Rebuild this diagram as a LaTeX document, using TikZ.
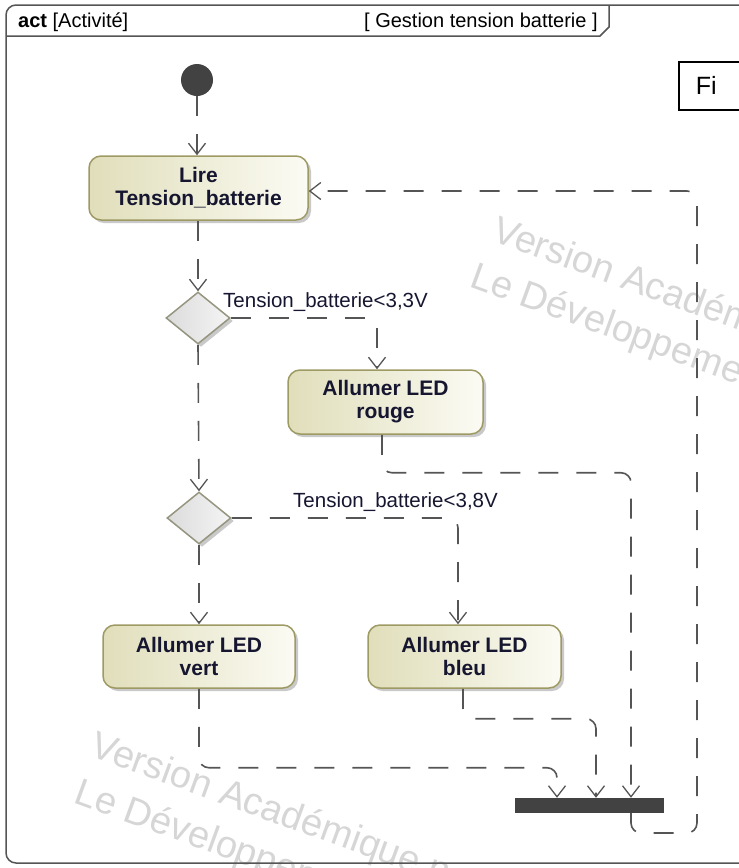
\documentclass[tikz,border=0pt]{standalone}
\usepackage{fontspec}
\setmainfont{Liberation Sans}
\usetikzlibrary{arrows.meta,shapes.geometric,shadows,calc}
\definecolor{boxL}{RGB}{224,222,186}
\definecolor{boxR}{RGB}{251,251,244}
\definecolor{boxB}{RGB}{158,154,100}
\definecolor{txt}{RGB}{22,22,48}
\definecolor{lne}{RGB}{85,85,85}
\definecolor{wmc}{RGB}{214,214,214}
\definecolor{dmB}{RGB}{150,150,128}
\definecolor{dark}{RGB}{66,66,66}
\tikzset{
  actbox/.style={rectangle, rounded corners=12pt, draw=boxB, line width=1.5pt,
    left color=boxL, right color=boxR,
    drop shadow={shadow xshift=3pt, shadow yshift=-3pt, fill=black!30, opacity=0.7},
    font=\bfseries\fontsize{21}{23}\selectfont, text=txt, align=center, inner sep=0pt},
  decis/.style={diamond, draw=dmB, line width=1.5pt, left color=black!14, right color=black!4,
    drop shadow={shadow xshift=3pt, shadow yshift=-3pt, fill=black!30, opacity=0.7},
    minimum width=64pt, minimum height=52pt, inner sep=0pt},
  flow/.style={draw=lne, line width=1.6pt, dash pattern=on 20pt off 18pt, rounded corners=10pt,
    -{Straight Barb[length=11pt,width=17pt,line width=1.3pt]}},
  guard/.style={font=\fontsize{20.5}{22}\selectfont, text=txt, inner sep=0pt},
  wm/.style={font=\fontsize{38}{42}\selectfont, text=wmc, inner sep=0pt, rotate=-20, anchor=base west},
  hdr/.style={font=\fontsize{20}{22}\selectfont, text=black, inner sep=0pt, anchor=base west}
}
\begin{document}
\begin{tikzpicture}[x=1pt,y=-1pt]
\useasboundingbox (0,0) rectangle (739,868);
\clip (0,0) rectangle (739,868);
% watermarks
\node[wm] (w1) at (490,240) {Version Académique};
\node[wm] (w2) at (468,286) {Le Développement};
\node[wm] (w3) at (88,755) {Version Académique non};
\node[wm] (w4) at (72,802) {Le Développement};
% frame
\draw[lne, line width=1.5pt, rounded corners=10pt] (6,863) -- (6,5) -- (780,5) -- (780,863) -- cycle;
\draw[lne, line width=1.5pt] (6,36) -- (600,36) -- (609,27) -- (609,5);
\node[hdr] (h1) at (18,27) {\textbf{act} [Activité]};
\node[hdr] (h2) at (364,27) {[ Gestion tension batterie ]};
% Fi box
\node[draw=black, line width=1.5pt, rectangle, anchor=north west, minimum height=48pt,
  text width=80pt, inner xsep=17pt, align=left,
  font=\fontsize{25}{27}\selectfont, text=black] (fi) at (678,61) {Fi};
% nodes
\node[circle, fill=dark, minimum size=32pt, inner sep=0pt] (init) at (197,80) {};
\node[actbox, minimum width=219pt, minimum height=64pt] (lire) at (198.5,188) {Lire\\Tension\_batterie};
\node[decis] (d1) at (198,318) {};
\node[actbox, minimum width=195pt, minimum height=64pt] (rouge) at (385.5,402) {Allumer LED\\rouge};
\node[decis] (d2) at (199,518) {};
\node[actbox, minimum width=192pt, minimum height=63pt] (vert) at (199,656.5) {Allumer LED\\vert};
\node[actbox, minimum width=193pt, minimum height=63pt] (bleu) at (464.5,656.5) {Allumer LED\\bleu};
\node[rectangle, fill=dark, minimum width=149pt, minimum height=15pt, inner sep=0pt] (bar) at (589.5,805.5) {};
\node[guard, anchor=west] (g1) at (223,302) {Tension\_batterie<3,3V};
\node[guard, anchor=west] (g2) at (293,502) {Tension\_batterie<3,8V};
% helper coordinates
\coordinate (j1) at (557,0);
\coordinate (j2) at (596,0);
\coordinate (j3) at (631,0);
\coordinate (lc) at (697,833);
% connectors
\draw[flow] (init.south) -- (init |- lire.north);
\draw[flow] (d1 |- lire.south) -- (d1.north);
\draw[flow] (d1.east) -| ($(rouge.north)+(-8.5,0)$);
\draw[flow] (d1.south) -- (d2.north);
\draw[flow] (d2.east) -| ($(bleu.north)+(-6.5,0)$);
\draw[flow] (d2.south) -- (vert.north);
\draw[flow] ($(rouge.south)+(-3.5,0)$) -- ++(0,38) -| (bar.north -| j3);
\draw[flow] (vert.south) -- ++(0,79) -| (bar.north -| j1);
\draw[flow] ($(bleu.south)+(-1.5,0)$) -- ++(0,30) -| (bar.north -| j2);
\draw[flow] (bar.south -| j3) |- (lc) |- ($(lire.east)+(0,3)$);
\end{tikzpicture}
\end{document}
